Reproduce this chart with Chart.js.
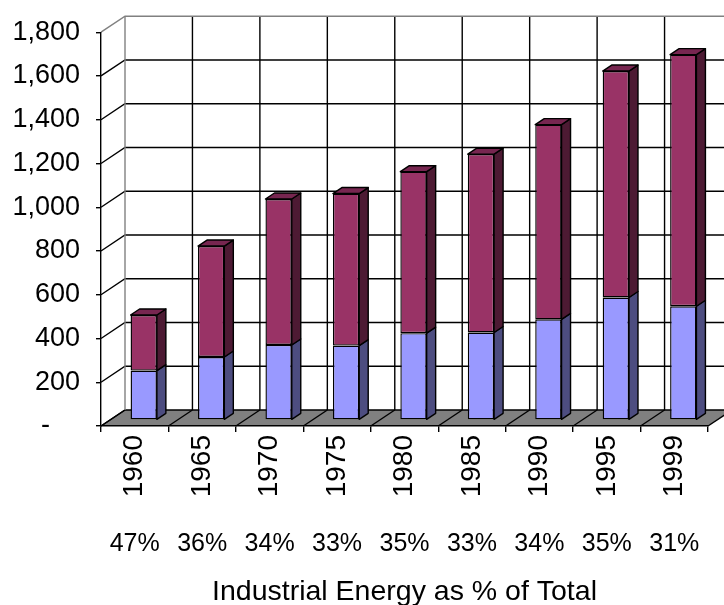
<!DOCTYPE html>
<html>
<head>
<meta charset="utf-8">
<script src="https://cdn.jsdelivr.net/npm/chart.js@4.4.1/dist/chart.umd.min.js"></script>
<style>
  html, body { margin: 0; padding: 0; background: #fff; }
  #wrap { width: 724px; height: 605px; }
</style>
</head>
<body>
<div id="wrap"><canvas id="myChart"></canvas></div>
<script>
const years = ['1960', '1965', '1970', '1975', '1980', '1985', '1990', '1995', '1999'];
const industrial = [226, 288, 343, 340, 397, 400, 460, 560, 520];
const otherUse = [254, 507, 667, 695, 738, 815, 890, 1035, 1150];
const shareLabels = ['47%', '36%', '34%', '33%', '35%', '33%', '34%', '35%', '31%'];
const yTicks = [0, 200, 400, 600, 800, 1000, 1200, 1400, 1600, 1800];

const FONT = "'Liberation Sans', Arial, sans-serif";
// depth of the back wall and of the bars
const WALL = { dx: 24, dy: -16 };
const BAR_SHIFT = { dx: 9, dy: -6 };
const BAR_DEPTH = { dx: 9, dy: -6 };

const sideColors = ['#4d4d80', '#4d1a33'];
const topColors = ['#7a7acc', '#772650'];

const box3d = {
    id: 'box3d',
    beforeDraw(chart) {
        const { ctx, chartArea: a, scales } = chart;
        const y = scales.y;
        const n = years.length;
        const step = (a.right - a.left) / n;
        ctx.save();
        // floor
        ctx.fillStyle = '#808080';
        ctx.beginPath();
        ctx.moveTo(a.left, a.bottom);
        ctx.lineTo(a.right, a.bottom);
        ctx.lineTo(a.right + WALL.dx, a.bottom + WALL.dy);
        ctx.lineTo(a.left + WALL.dx, a.bottom + WALL.dy);
        ctx.closePath();
        ctx.fill();
        ctx.lineWidth = 1.4;
        ctx.strokeStyle = '#000';
        for (let k = 0; k <= n; k++) {
            const x = a.left + k * step;
            ctx.beginPath();
            ctx.moveTo(x, a.bottom);
            ctx.lineTo(x + WALL.dx, a.bottom + WALL.dy);
            ctx.stroke();
        }
        // back wall verticals
        for (let k = 1; k <= n; k++) {
            const x = a.left + WALL.dx + k * step;
            ctx.beginPath();
            ctx.moveTo(x, a.top + WALL.dy);
            ctx.lineTo(x, a.bottom + WALL.dy);
            ctx.stroke();
        }
        // back wall and side wall horizontals
        yTicks.forEach(v => {
            const py = y.getPixelForValue(v);
            const top = v === yTicks[yTicks.length - 1];
            ctx.strokeStyle = top ? '#808080' : '#000';
            ctx.beginPath();
            ctx.moveTo(a.left, py);
            ctx.lineTo(a.left + WALL.dx, py + WALL.dy);
            ctx.lineTo(chart.width + 20, py + WALL.dy);
            ctx.stroke();
        });
        ctx.strokeStyle = '#808080';
        ctx.beginPath();
        ctx.moveTo(a.left + WALL.dx, a.top + WALL.dy);
        ctx.lineTo(a.left + WALL.dx, a.bottom + WALL.dy);
        ctx.stroke();
        ctx.restore();
    },
    beforeDatasetsDraw(chart) {
        chart.ctx.save();
        chart.ctx.translate(BAR_SHIFT.dx, BAR_SHIFT.dy);
    },
    afterDatasetsDraw(chart) {
        const ctx = chart.ctx;
        const last = chart.data.datasets.length - 1;
        ctx.lineWidth = 1.4;
        ctx.strokeStyle = '#000';
        ctx.lineJoin = 'round';
        chart.data.datasets.forEach((ds, di) => {
            chart.getDatasetMeta(di).data.forEach(bar => {
                const r = bar.x + bar.width / 2;
                const l = bar.x - bar.width / 2;
                const t = bar.y, b = bar.base;
                ctx.fillStyle = sideColors[di];
                ctx.beginPath();
                ctx.moveTo(r, t);
                ctx.lineTo(r + BAR_DEPTH.dx, t + BAR_DEPTH.dy);
                ctx.lineTo(r + BAR_DEPTH.dx, b + BAR_DEPTH.dy);
                ctx.lineTo(r, b);
                ctx.closePath();
                ctx.fill();
                ctx.stroke();
                if (di === last) {
                    ctx.fillStyle = topColors[di];
                    ctx.beginPath();
                    ctx.moveTo(l, t);
                    ctx.lineTo(l + BAR_DEPTH.dx, t + BAR_DEPTH.dy);
                    ctx.lineTo(r + BAR_DEPTH.dx, t + BAR_DEPTH.dy);
                    ctx.lineTo(r, t);
                    ctx.closePath();
                    ctx.fill();
                    ctx.stroke();
                }
            });
        });
        ctx.restore();
    }
};

const data = {
    labels: years,
    datasets: [
        {
            label: 'Industrial',
            data: industrial,
            backgroundColor: '#9999ff',
            borderColor: '#000',
            borderWidth: 1.4,
            borderSkipped: false,
        },
        {
            label: 'Other',
            data: otherUse,
            backgroundColor: '#993366',
            borderColor: '#000',
            borderWidth: 1.4,
            borderSkipped: false,
        },
    ],
};

const config = {
    type: 'bar',
    data: data,
    plugins: [box3d],
    options: {
        responsive: true,
        maintainAspectRatio: false,
        animation: false,
        categoryPercentage: 1,
        barPercentage: 0.39,
        layout: { padding: { top: 27, right: 16, left: 0, bottom: 0 } },
        plugins: {
            legend: { display: false },
            tooltip: { enabled: false },
        },
        scales: {
            x: {
                stacked: true,
                grid: { drawOnChartArea: false, drawTicks: true, tickLength: 6, color: '#000', lineWidth: 1.4 },
                border: { display: true, color: '#000', width: 1.4 },
                ticks: {
                    color: '#000',
                    font: { family: FONT, size: 28 },
                    minRotation: 90,
                    maxRotation: 90,
                    autoSkip: false,
                    padding: 3,
                },
                afterFit(scale) { scale.height = 80; },
            },
            x2: {
                type: 'category',
                labels: shareLabels,
                position: 'bottom',
                grid: { display: false, drawTicks: false },
                border: { display: false },
                ticks: {
                    color: '#000',
                    font: { family: FONT, size: 25 },
                    maxRotation: 0,
                    autoSkip: false,
                    padding: 23,
                },
                title: {
                    display: true,
                    text: 'Industrial Energy as % of Total',
                    color: '#000',
                    font: { family: FONT, size: 28.5 },
                    padding: { top: 0, bottom: -4 },
                },
                afterFit(scale) { scale.height = 99; },
            },
            y: {
                stacked: true,
                min: 0,
                max: 1800,
                grid: { drawOnChartArea: false, drawTicks: true, tickLength: 5, color: '#000', lineWidth: 1.4 },
                border: { display: true, color: '#000', width: 1.4 },
                ticks: {
                    stepSize: 200,
                    color: '#000',
                    font: { family: FONT, size: 27 },
                    padding: 16,
                    callback: function(value) {
                        return value === 0 ? '-    ' : value.toLocaleString('en-US');
                    },
                },
                afterFit(scale) { scale.width = 101; },
            },
        },
    },
};

const myChart = new Chart(document.getElementById('myChart'), config);
</script>
</body>
</html>
